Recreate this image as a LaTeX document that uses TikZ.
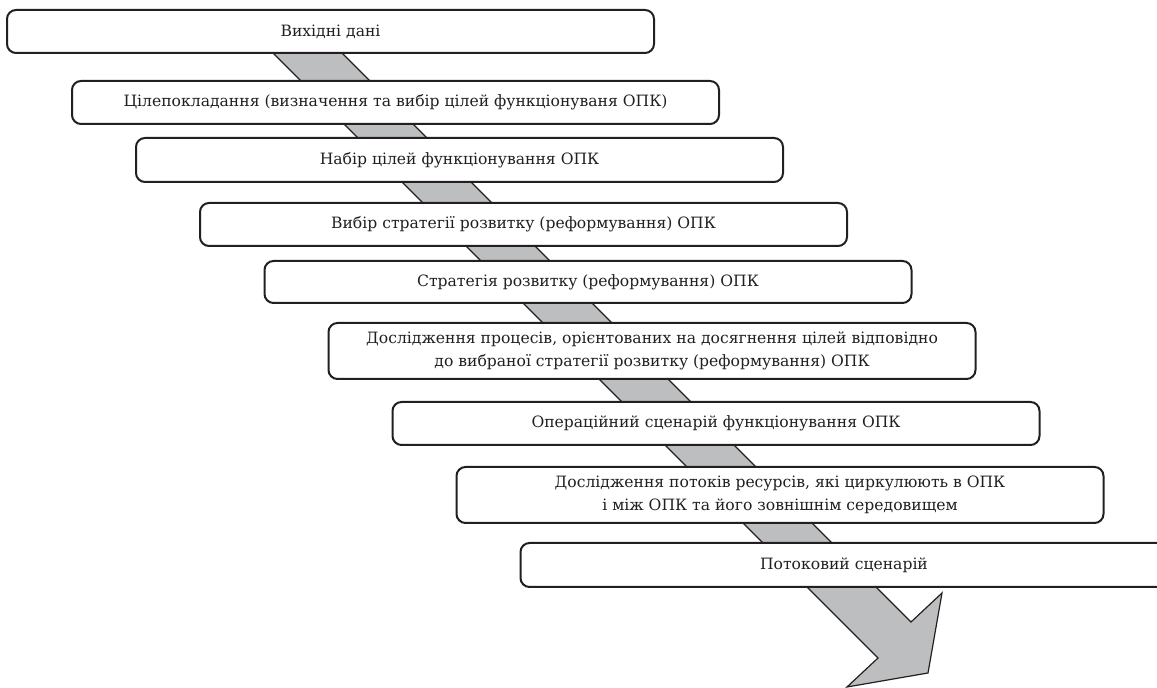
\documentclass[tikz,border=0pt]{standalone}
\usepackage{fontspec}
\setmainfont{DejaVu Serif}
\definecolor{ink}{HTML}{231F20}
\definecolor{bandgray}{HTML}{BCBEC0}
\begin{document}
\begin{tikzpicture}[x=0.5pt,y=-0.5pt,
  stage/.style={draw=ink, line width=1pt, rounded corners=4.5pt, fill=white,
    minimum width=323.5pt, inner sep=0pt, align=center, text=ink,
    font=\fontsize{7.8}{11.3}\selectfont},
  band/.style={draw=ink, line width=0.6pt, fill=bandgray, line join=miter}]
\useasboundingbox (0,0) rectangle (1157,688);
\clip (0,0) rectangle (1157,688);
% band coordinates
\coordinate (bs1) at (245,25);
\coordinate (bs2) at (314,25);
\coordinate (bl) at (878,658);
\coordinate (tip) at (847,687);
\coordinate (hb) at (928,673);
\coordinate (hr) at (942,593);
\coordinate (nr) at (911,622);
\draw[band] (bs1) -- (bl) -- (tip) -- (hb) -- (hr) -- (nr) -- (bs2) -- cycle;
% stages
\node[stage, minimum height=21.5pt] (s1) at (330.5,31.5) {Вихідні дані};
\node[stage, minimum height=21.5pt] (s2) at (395.5,102.5) {Цілепокладання (визначення та вибір цілей функціонуваня ОПК)};
\node[stage, minimum height=22pt] (s3) at (459.5,160) {Набір цілей функціонування ОПК};
\node[stage, minimum height=21.5pt] (s4) at (523.5,224.5) {Вибір стратегії розвитку (реформування) ОПК};
\node[stage, minimum height=21pt] (s5) at (588,282) {Стратегія розвитку (реформування) ОПК};
\node[stage, minimum height=28pt] (s6) at (652,351) {Дослідження процесів, орієнтованих на досягнення цілей відповідно\\до вибраної стратегії розвитку (реформування) ОПК};
\node[stage, minimum height=21.5pt] (s7) at (716,423.5) {Операційний сценарій функціонування ОПК};
\node[stage, minimum height=28pt] (s8) at (780,495) {Дослідження потоків ресурсів, які циркулюють в ОПК\\і між ОПК та його зовнішнім середовищем};
\node[stage, minimum height=22pt] (s9) at (844,565) {Потоковий сценарій};
\end{tikzpicture}
\end{document}
